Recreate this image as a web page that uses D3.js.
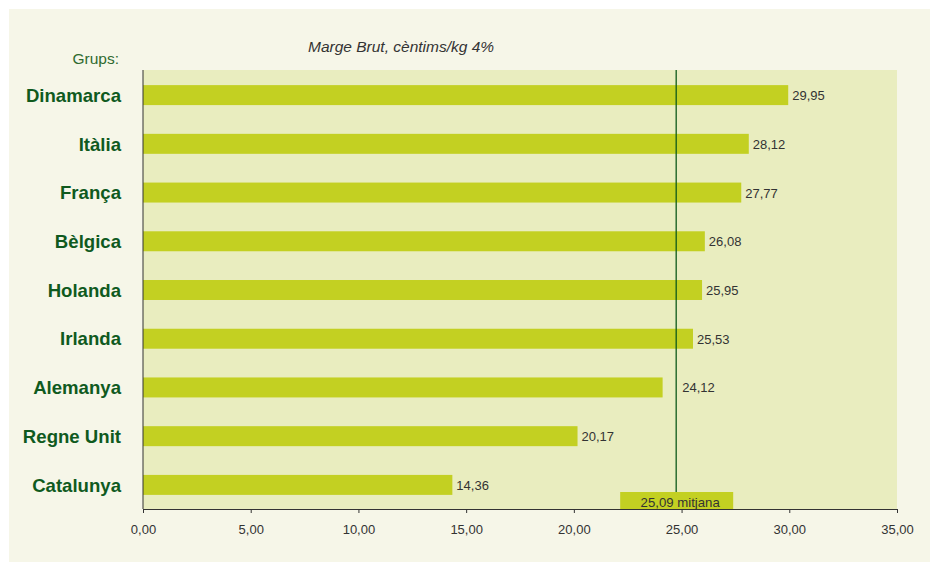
<!DOCTYPE html>
<html><head><meta charset="utf-8">
<script src="https://cdn.jsdelivr.net/npm/d3@7"></script>
<style>
html,body{margin:0;padding:0;background:#fff;}
svg{display:block;font-family:"Liberation Sans",Arial,Helvetica,sans-serif;}
</style></head>
<body>
<svg id="chart" width="930" height="562"></svg>
<script>
const categories = ["Dinamarca","Itàlia","França","Bèlgica","Holanda","Irlanda","Alemanya","Regne Unit","Catalunya"];
const values = [29.95, 28.12, 27.77, 26.08, 25.95, 25.53, 24.12, 20.17, 14.36];
const xTicks = [0,5,10,15,20,25,30,35];
const meanValue = 25.09;
const meanLinePos = 24.75; // where the reference draws the line
const title = "Marge Brut, cèntims/kg 4%";
const groupLabel = "Grups:";
const meanLabel = "mitjana";

const fmt = v => d3.format(".2f")(v).replace(".", ",");

const svg = d3.select("#chart");
const m = {left:143, right:897, top:70, bottom:509};

svg.append("rect").attr("x",9).attr("y",9).attr("width",921).attr("height",553).attr("fill","#f6f6e8");
svg.append("rect").attr("x",m.left).attr("y",m.top).attr("width",m.right-m.left).attr("height",m.bottom-m.top).attr("fill","#e9edbf");

const x = d3.scaleLinear().domain([0,35]).range([m.left,m.right]);
const y = d3.scaleBand().domain(categories).range([m.top+0.5, m.bottom+0.5]).paddingInner(0.59).paddingOuter(0.3);

// bars
svg.append("g").selectAll("rect").data(categories).join("rect")
  .attr("x", x(0)).attr("y", d=>y(d)).attr("height", y.bandwidth())
  .attr("width", (d,i)=>x(values[i])-x(0)).attr("fill","#c3d022");

// mean line
const lx = x(meanLinePos);
svg.append("line").attr("x1",lx).attr("x2",lx).attr("y1",m.top).attr("y2",m.bottom)
  .attr("stroke","#0d5a1a").attr("stroke-width",1.3);

// value labels
svg.append("g").selectAll("text").data(categories).join("text")
  .attr("x",(d,i)=>{ const e = x(values[i]); return (e < lx && e + 40 > lx) ? lx + 6 : e + 4; })
  .attr("y", d=>y(d)+y.bandwidth()/2+5)
  .attr("font-size",13).attr("fill","#333")
  .text((d,i)=>fmt(values[i]));

// mean label box
svg.append("rect").attr("x",lx-56).attr("y",492).attr("width",113).attr("height",17).attr("fill","#c3d022");
svg.append("text").attr("x",lx+4).attr("y",506.5).attr("text-anchor","middle").attr("font-size",13.2).attr("fill","#333")
  .text(fmt(meanValue)+" "+meanLabel);

// x axis
const xAxis = d3.axisBottom(x).tickValues(xTicks).tickFormat(fmt).tickSize(4).tickSizeOuter(4);
const gx = svg.append("g").attr("transform",`translate(0,${m.bottom})`).call(xAxis);
gx.select(".domain").attr("stroke","#333");
gx.selectAll(".tick line").attr("stroke","#333");
gx.selectAll(".tick text").attr("font-size",13).attr("fill","#333").attr("dy","1.38em")
  .attr("font-family","'Liberation Sans',Arial,sans-serif");

// y axis line
svg.append("line").attr("x1",m.left).attr("x2",m.left).attr("y1",m.top).attr("y2",m.bottom).attr("stroke","#333").attr("stroke-width",1);

// category labels
svg.append("g").selectAll("text").data(categories).join("text")
  .attr("x",121).attr("y",d=>y(d)+y.bandwidth()/2+6.7)
  .attr("text-anchor","end").attr("font-size",18.6).attr("font-weight","bold").attr("fill","#0f5a1e")
  .text(d=>d);

svg.append("text").attr("x",119).attr("y",64).attr("text-anchor","end").attr("font-size",15.5).attr("fill","#2f6a2f").text(groupLabel);
svg.append("text").attr("x",308).attr("y",51.5).attr("font-size",15.5).attr("font-style","italic").attr("fill","#333").text(title);
</script>
</body></html>
